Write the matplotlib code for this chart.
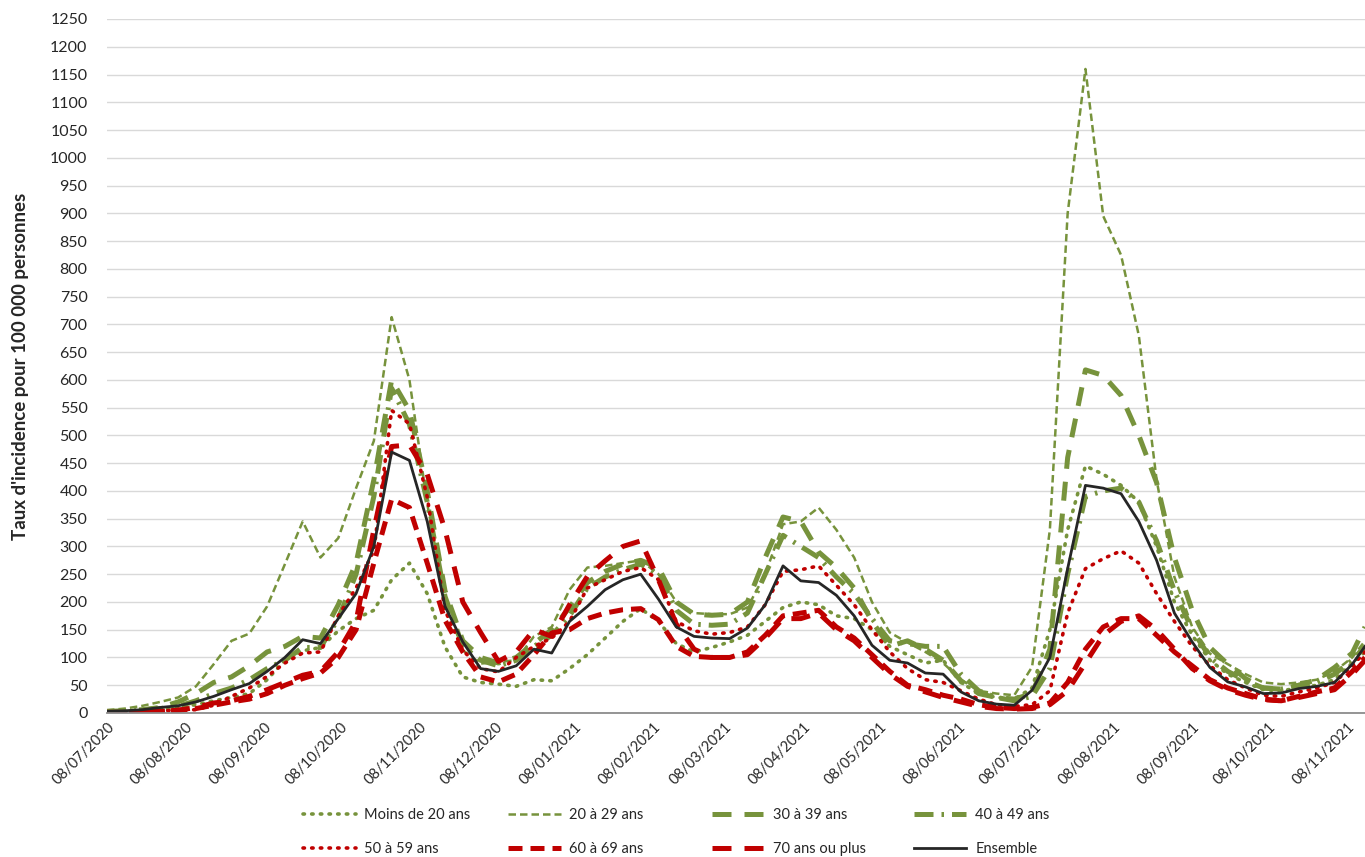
import matplotlib
matplotlib.use("Agg")
import matplotlib.pyplot as plt
import matplotlib.dates as mdates
from matplotlib.lines import Line2D
import pandas as pd

plt.rcParams['font.family'] = ['Lato', 'DejaVu Sans']

# Weekly readings (every 7 days from 08/07/2020) + last point 15/11/2021
dates = list(pd.date_range("2020-07-08", periods=71, freq="7D")) + [pd.Timestamp("2021-11-15")]

ensemble = [3,4,6,10,13,20,30,42,53,75, 100,132,125,170,215,300,470,455,345,192,
            128,80,75,85,115,108,165,192,222,240, 250,205,155,138,135,134,153,195,265,238,
            235,212,175,122,95,90,72,70,38,22, 16,14,41,100,260,410,405,395,345,275,
            180,128,82,56,47,35,36,44,48,55, 88,120]
moins20 = [2,3,4,6,10,15,22,28,35,60, 95,112,118,148,170,185,240,270,215,119,
           65,55,52,48,60,58,80,105,135,165, 188,165,125,110,118,128,140,165,190,200,
           195,175,170,150,120,105,90,95,55,35, 28,25,45,150,330,445,430,410,380,300,
           200,140,95,70,55,42,40,45,50,60, 90,110]
a20_29 = [5,8,13,20,28,48,88,130,143,192, 268,345,280,315,405,490,713,600,377,203,
          113,89,92,95,138,155,222,262,265,270, 275,250,200,180,178,178,190,250,340,345,
          370,330,280,200,145,127,110,90,60,40, 35,32,83,330,900,1160,895,825,680,420,
          245,155,107,88,70,55,52,55,60,75, 100,130]
a30_39 = [3,4,6,10,20,35,55,65,85,110, 120,138,135,195,270,420,600,545,400,220,
          130,100,90,100,125,150,190,235,255,268, 275,262,200,178,176,178,200,280,353,345,
          290,262,225,165,120,130,115,95,58,35, 28,25,35,115,460,618,608,572,500,415,
          280,185,118,88,62,45,43,50,60,82, 108,155]
a40_49 = [2,3,5,8,12,22,35,45,60,80, 95,118,118,170,250,390,585,520,380,210,
          120,95,85,95,120,140,175,225,245,258, 268,250,185,160,158,160,180,250,320,300,
          280,245,215,170,130,125,120,120,70,40, 28,22,30,80,250,390,400,405,380,310,
          220,150,100,75,58,45,43,50,55,70, 95,120]
a50_59 = [2,2,3,4,5,6,14,30,45,66, 90,108,110,175,225,293,545,521,389,185,
          113,80,74,100,120,135,165,225,240,255, 262,240,165,148,142,145,155,195,255,258,
          265,230,195,150,110,80,60,55,40,25, 15,12,15,40,180,260,278,292,270,215,
          165,120,85,60,45,32,30,38,45,55, 85,110]
a60_69 = [1,1,2,3,5,8,14,20,25,35, 50,62,72,100,150,270,385,370,270,167,
          110,65,56,70,105,144,150,170,180,186, 188,168,120,102,100,100,110,140,175,180,
          185,155,135,105,75,50,42,32,25,15, 10,8,10,18,55,115,155,170,170,140,
          110,85,60,45,35,25,22,30,38,45, 75,100]
a70plus = [1,1,2,3,5,10,18,22,30,42, 55,68,75,110,165,330,480,483,430,330,
           200,145,93,110,150,138,195,246,274,300, 310,240,160,115,100,100,105,135,170,170,
           180,150,130,100,70,48,38,28,20,12, 8,7,8,15,40,90,140,165,175,150,
           115,80,58,42,32,24,22,28,35,42, 70,95]

labels = ["Moins de 20 ans", "20 à 29 ans", "30 à 39 ans", "40 à 49 ans",
          "50 à 59 ans", "60 à 69 ans", "70 ans ou plus", "Ensemble"]
y_label = "Taux d'incidence pour 100 000 personnes"

GREEN = "#77933C"
RED = "#C00000"
BLACK = "#262626"

styles = [
    dict(color=GREEN, lw=2.6, ls=(0, (0.4, 2.0)), dash_capstyle='round'),
    dict(color=GREEN, lw=1.8, ls=(0, (3.0, 1.6))),
    dict(color=GREEN, lw=3.6, ls=(0, (3.8, 2.6))),
    dict(color=GREEN, lw=3.6, ls=(0, (3.8, 1.6, 0.5, 1.6))),
    dict(color=RED, lw=2.6, ls=(0, (0.4, 2.0)), dash_capstyle='round'),
    dict(color=RED, lw=3.6, ls=(0, (2.8, 1.6))),
    dict(color=RED, lw=3.6, ls=(0, (3.8, 2.6))),
    dict(color=BLACK, lw=2.0, ls='-'),
]
series = [moins20, a20_29, a30_39, a40_49, a50_59, a60_69, a70plus, ensemble]

fig = plt.figure(figsize=(13.65, 8.57), dpi=100)
ax = fig.add_axes([107/1365, 1 - 713/857, 1 - 107/1365, (713 - 19)/857])

for vals, st in zip(series, styles):
    ax.plot(dates, vals, **st)

ax.set_xlim(pd.Timestamp("2020-07-08"), pd.Timestamp("2021-11-15"))
ax.set_ylim(0, 1250)
ax.set_yticks(range(0, 1251, 50))
ax.yaxis.grid(True, color="#D9D9D9", lw=1.0)
ax.set_axisbelow(True)
for s in ["left", "right", "top"]:
    ax.spines[s].set_visible(False)
ax.spines["bottom"].set_color("#8C8C8C")
ax.spines["bottom"].set_linewidth(1.3)

ticks = pd.date_range("2020-07-01", "2021-11-08", freq="MS") + pd.Timedelta(days=7)
ax.set_xticks(ticks)
ax.xaxis.set_major_formatter(mdates.DateFormatter("%d/%m/%Y"))
ax.tick_params(axis='x', length=0, labelsize=10.5, pad=5, colors="#262626")
ax.tick_params(axis='y', length=0, labelsize=11.5, pad=14, colors="#262626")
for lab in ax.get_xticklabels():
    lab.set_rotation(45)
    lab.set_ha('right')
    lab.set_rotation_mode('anchor')

ax.set_ylabel(y_label, fontsize=13.5, fontweight='bold', color="#262626")
ax.yaxis.set_label_coords(-0.062, 0.5)

# Legend entries placed individually (two rows of four)
xs = [303, 508, 712, 914]
ys = [815, 849]
for i, (lab, st) in enumerate(zip(labels, styles)):
    r, c = divmod(i, 4)
    h = Line2D([], [], **st)
    fig.legend(handles=[h], labels=[lab], loc='center left',
               bbox_to_anchor=(xs[c] / 1365, 1 - ys[r] / 857),
               frameon=False, borderpad=0, borderaxespad=0,
               handlelength=3.6, handletextpad=0.6, fontsize=10.5,
               labelcolor="#262626")

fig.savefig("out.png", dpi=100)
